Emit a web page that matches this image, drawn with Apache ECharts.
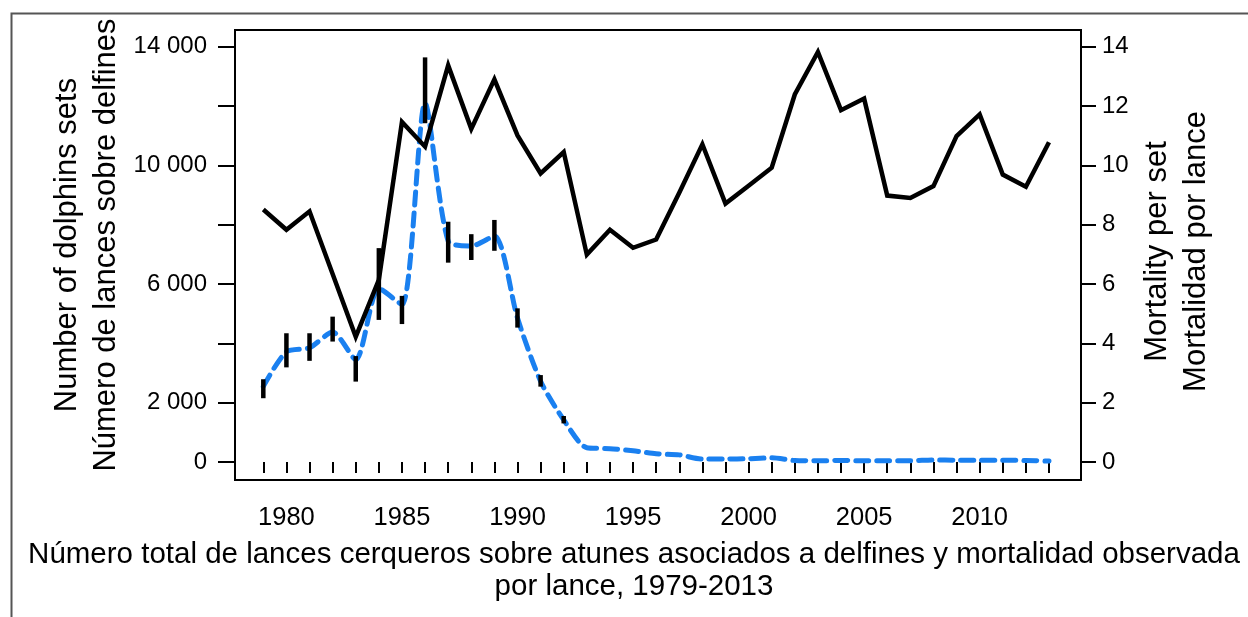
<!DOCTYPE html>
<html>
<head>
<meta charset="utf-8">
<script src="https://cdn.jsdelivr.net/npm/echarts@6/dist/echarts.min.js"></script>
<style>
  html, body { margin: 0; padding: 0; background: #fff; }
  #main { width: 1248px; height: 617px; }
</style>
</head>
<body>
<div id="main"></div>
<script>
var myChart = echarts.init(document.getElementById('main'));

// años 1979-2013
var years = [1979, 1980, 1981, 1982, 1983, 1984, 1985, 1986, 1987, 1988, 1989, 1990,
    1991, 1992, 1993, 1994, 1995, 1996, 1997, 1998, 1999, 2000, 2001, 2002,
    2003, 2004, 2005, 2006, 2007, 2008, 2009, 2010, 2011, 2012, 2013];
// número de lances sobre delfines
var sets = [8510, 7830, 8450, 6340, 4220, 6140, 11460, 10630, 13370, 11230, 12900, 11010,
    9730, 10450, 6990, 7830, 7220, 7500, 9080, 10710, 8710, 9310, 9920, 12390,
    13820, 11860, 12250, 8980, 8900, 9300, 10990, 11720, 9690, 9280, 10780];
// mortalidad por lance
var mortality = [2.55, 3.72, 3.85, 4.38, 3.45, 5.85, 5.3, 12.1, 7.45, 7.28, 7.62, 4.85,
    2.72, 1.42, 0.48, 0.45, 0.38, 0.28, 0.24, 0.1, 0.1, 0.11, 0.14, 0.05,
    0.04, 0.05, 0.04, 0.04, 0.04, 0.07, 0.06, 0.06, 0.06, 0.05, 0.03];
// intervalos de la mortalidad
var errYears = [1979, 1980, 1981, 1982, 1983, 1984, 1985, 1986, 1987, 1988, 1989, 1990, 1991, 1992];
var errLow = [2.15, 3.19, 3.41, 4.06, 2.71, 4.79, 4.65, 11.42, 6.72, 6.81, 7.12, 4.53, 2.54, 1.30];
var errHigh = [2.79, 4.34, 4.34, 4.90, 3.57, 7.21, 5.60, 13.64, 8.10, 7.68, 8.16, 5.18, 2.93, 1.55];

// ticks
var xLabels = [1980, 1985, 1990, 1995, 2000, 2005, 2010];
var leftTicks = [0, 2000, 4000, 6000, 8000, 10000, 12000, 14000];
var leftLabels = [0, 2000, 6000, 10000, 14000];
var rightTicks = [0, 2, 4, 6, 8, 10, 12, 14];

var sans = "'Liberation Sans', Arial, sans-serif";

option = {
    animation: false,
    backgroundColor: '#fff',
    textStyle: { fontFamily: sans },
    title: {
        text: 'Número total de lances cerqueros sobre atunes asociados a delfines y mortalidad observada\npor lance, 1979-2013',
        left: 629,
        textAlign: 'center',
        top: 534,
        textStyle: {
            fontFamily: sans,
            fontSize: 29.5,
            fontWeight: 'normal',
            lineHeight: 32,
            color: '#000'
        }
    },
    graphic: [{
        type: 'rect',
        left: 9,
        top: 11,
        shape: { width: 1260, height: 640 },
        style: { fill: null, stroke: '#555', lineWidth: 2 },
        silent: true
    }],
    grid: {
        left: 235,
        right: 167,
        top: 30,
        bottom: 137,
        show: true,
        borderColor: '#000',
        borderWidth: 2,
        backgroundColor: 'transparent',
        outerBoundsMode: 'none'
    },
    xAxis: {
        type: 'value',
        min: 1977.775,
        max: 2014.385,
        axisLine: { show: false },
        splitLine: { show: false },
        axisTick: {
            show: true,
            length: 11,
            customValues: years,
            lineStyle: { color: '#000', width: 2 }
        },
        axisLabel: {
            customValues: xLabels,
            fontSize: 25.5,
            color: '#000',
            margin: 25,
            formatter: function (v) {
                return String(v);
            }
        }
    },
    yAxis: [{
        type: 'value',
        position: 'left',
        min: -607,
        max: 14563,
        axisLine: { show: false },
        splitLine: { show: false },
        axisTick: {
            show: true,
            length: 17,
            customValues: leftTicks,
            lineStyle: { color: '#000', width: 2 }
        },
        axisLabel: {
            customValues: leftLabels,
            fontSize: 24,
            color: '#000',
            margin: 28,
            formatter: function (v) {
                if (v >= 1000) {
                    return Math.floor(v / 1000) + ' 000';
                }
                return v;
            }
        },
        name: 'Number of dolphins sets\nNúmero de lances sobre delfines',
        nameLocation: 'middle',
        nameRotate: 90,
        nameGap: 109,
        nameMoveOverlap: false,
        nameTextStyle: {
            fontFamily: sans,
            fontSize: 31,
            lineHeight: 39,
            color: '#000',
            padding: [0, 0, 0, 20]
        }
    }, {
        type: 'value',
        position: 'right',
        min: -0.607,
        max: 14.563,
        axisLine: { show: false },
        splitLine: { show: false },
        axisTick: {
            show: true,
            length: 15,
            customValues: rightTicks,
            lineStyle: { color: '#000', width: 2 }
        },
        axisLabel: {
            customValues: rightTicks,
            fontSize: 24,
            color: '#000',
            margin: 21
        },
        name: 'Mortality per set\nMortalidad por lance',
        nameLocation: 'middle',
        nameRotate: 90,
        nameGap: 57,
        nameMoveOverlap: false,
        nameTextStyle: {
            fontFamily: sans,
            fontSize: 31,
            lineHeight: 39,
            color: '#000',
            padding: [0, 0, 0, 7]
        }
    }],
    series: [{
        name: 'Mortalidad por lance',
        type: 'line',
        yAxisIndex: 1,
        data: years.map(function (y, i) { return [y, mortality[i]]; }),
        showSymbol: false,
        smooth: 0.25,
        lineStyle: {
            color: '#1a80f0',
            width: 5,
            type: [13, 8],
            cap: 'round'
        },
        z: 2
    }, {
        name: 'Lances',
        type: 'line',
        yAxisIndex: 0,
        data: years.map(function (y, i) { return [y, sets[i]]; }),
        showSymbol: false,
        lineStyle: { color: '#000', width: 4.5, join: 'miter' },
        z: 3
    }, {
        name: 'Intervalo',
        type: 'custom',
        yAxisIndex: 1,
        data: errYears.map(function (y, i) { return [y, errLow[i], errHigh[i]]; }),
        renderItem: function (params, api) {
            var p1 = api.coord([api.value(0), api.value(1)]);
            var p2 = api.coord([api.value(0), api.value(2)]);
            return {
                type: 'line',
                shape: { x1: p1[0], y1: p1[1], x2: p2[0], y2: p2[1] },
                style: { stroke: '#000', lineWidth: 4.5 }
            };
        },
        z: 4
    }]
};
myChart.setOption(option);
</script>
</body>
</html>
